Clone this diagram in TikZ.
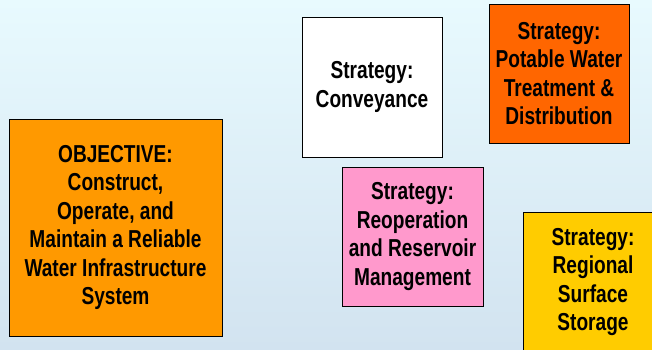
\documentclass[tikz,border=0pt]{standalone}
\usepackage{fontspec}
\setmainfont{Liberation Sans}[FakeStretch=0.78]
\usepackage{xcolor}
\usetikzlibrary{shadows}

\definecolor{bgtop}{HTML}{E8FAFE}
\definecolor{bgbottom}{HTML}{D2E3F0}
\definecolor{objorange}{HTML}{FF9900}
\definecolor{potorange}{HTML}{FF6600}
\definecolor{reoppink}{HTML}{FF99CC}
\definecolor{regyellow}{HTML}{FFCC00}

\begin{document}
\begin{tikzpicture}[
  x=1pt, y=-1pt,
  box/.style={draw, line width=0.8pt, align=center, inner sep=0pt,
    minimum width=140pt, minimum height=140pt,
    font=\fontsize{24.5}{28.4}\selectfont\bfseries,
    drop shadow={shadow xshift=1.2pt, shadow yshift=-1.2pt, fill=black!55, opacity=1}}
]
\shade[top color=bgtop, bottom color=bgbottom] (0,0) rectangle (652,349);
\useasboundingbox (0,0) rectangle (652,349);

\node[box, fill=objorange, minimum width=213pt, minimum height=217pt] (obj) at (115.5,227.5)
  {OBJECTIVE:\\Construct,\\Operate, and\\Maintain a Reliable\\Water Infrastructure\\System};
\node[box, fill=white] (conv) at (372,87) {Strategy:\\Conveyance};
\node[box, fill=potorange, minimum height=139pt] (potable) at (559,73.5)
  {Strategy:\\Potable Water\\Treatment \&\\Distribution};
\node[box, fill=reoppink, minimum width=141pt, minimum height=139pt] (reop) at (412.5,236.5)
  {Strategy:\\Reoperation\\and Reservoir\\Management};
\node[box, fill=regyellow] (regional) at (593,282)
  {Strategy:\\Regional\\Surface\\Storage};
\end{tikzpicture}
\end{document}
